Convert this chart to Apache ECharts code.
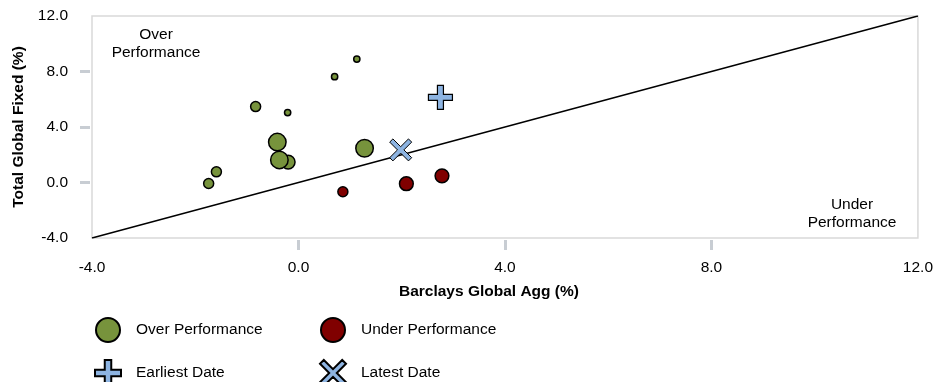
<!DOCTYPE html>
<html>
<head>
<meta charset="utf-8">
<style>
  html, body { margin: 0; padding: 0; background: #fff; }
  #chart { width: 936px; height: 382px; }
</style>
<script src="https://cdn.jsdelivr.net/npm/echarts@6/dist/echarts.min.js"></script>
</head>
<body>
<div id="chart"></div>
<script>
// Fund returns vs. benchmark returns (%), bubble weight = relative size
const overX = [-1.74, -1.59, -0.83, -0.21, 0.70, 1.13, -0.41, -0.20, -0.37, 1.28];
const overY = [-0.07, 0.77, 5.47, 5.04, 7.63, 8.90, 2.91, 1.47, 1.63, 2.47];
const overW = [2, 2, 2, 1, 1, 1, 4, 3, 4, 4];

const underX = [0.86, 2.09, 2.78];
const underY = [-0.67, -0.09, 0.48];
const underW = [2, 3, 3];

const earliestPoint = [2.75, 6.14];
const latestPoint = [1.98, 2.35];

const axisMin = -4;
const axisMax = 12;
const axisStep = 4;
const innerTicks = [0, 4, 8];
const tickLabels = [-4, 0, 4, 8, 12];

const FONT = 'Liberation Sans, Arial, sans-serif';
const FS = 15.5;
const GREEN = '#77933c';
const RED = '#800000';
const BLUE = '#8db4e2';

const PLUS_PATH = 'path://M9,0H15V9H24V15H15V24H9V15H0V9H9Z';
const CROSS_PATH = 'path://M0,3.5L3.5,0L12,8.5L20.5,0L24,3.5L15.5,12L24,20.5L20.5,24L12,15.5L3.5,24L0,20.5L8.5,12Z';

const zip = (xs, ys, ws) => xs.map((x, i) => ws ? [x, ys[i], ws[i]] : [x, ys[i]]);
const bubbleSize = v => 2.5 + 3.75 * v[2];

const chart = echarts.init(document.getElementById('chart'), null, { renderer: 'canvas' });

const legendBase = {
  orient: 'horizontal',
  padding: 0,
  itemWidth: 24,
  itemHeight: 24,
  textStyle: { fontFamily: FONT, fontSize: FS, color: '#000', padding: [0, 0, 0, 11] },
  selectedMode: false
};

// ticks sit a couple of pixels off the plot frame
const tickOffset = 2;

chart.setOption({
  animation: false,
  backgroundColor: '#fff',
  grid: {
    left: 92, right: 14, top: 16, bottom: 144,
    show: true, borderColor: '#d9d9d9', borderWidth: 1.5, backgroundColor: 'transparent'
  },
  xAxis: {
    type: 'value', min: axisMin, max: axisMax, interval: axisStep, offset: tickOffset,
    name: 'Barclays Global Agg (%)', nameLocation: 'middle', nameGap: 46 - tickOffset,
    nameTextStyle: { fontFamily: FONT, fontSize: FS, fontWeight: 'bold', color: '#000', padding: [0, 32, 0, 0] },
    splitLine: { show: false },
    axisLine: { show: false, onZero: false },
    axisTick: { show: true, customValues: innerTicks, length: 10, lineStyle: { color: '#c8cdd3', width: 3 } },
    axisLabel: { customValues: tickLabels, margin: 22 - tickOffset, fontFamily: FONT, fontSize: FS, color: '#000',
      formatter: v => v.toFixed(1) }
  },
  yAxis: {
    type: 'value', min: axisMin, max: axisMax, interval: axisStep, offset: tickOffset,
    name: 'Total Global Fixed (%)', nameLocation: 'middle', nameGap: 64 - tickOffset, nameRotate: 90,
    nameTextStyle: { fontFamily: FONT, fontSize: FS, fontWeight: 'bold', color: '#000' },
    splitLine: { show: false },
    axisLine: { show: false, onZero: false },
    axisTick: { show: true, customValues: innerTicks, length: 10, lineStyle: { color: '#c8cdd3', width: 3 } },
    axisLabel: { customValues: tickLabels, margin: 24 - tickOffset, fontFamily: FONT, fontSize: FS, color: '#000',
      formatter: v => v.toFixed(1) }
  },
  legend: [
    Object.assign({}, legendBase, { left: 95, top: 317, data: [{ name: 'Over Performance', icon: 'circle' }] }),
    Object.assign({}, legendBase, { left: 320, top: 317, data: [{ name: 'Under Performance', icon: 'circle' }] }),
    Object.assign({}, legendBase, { left: 94, top: 359, itemWidth: 26, itemHeight: 26,
      textStyle: Object.assign({}, legendBase.textStyle, { padding: [0, 0, 0, 10] }),
      data: [{ name: 'Earliest Date', icon: PLUS_PATH }] }),
    Object.assign({}, legendBase, { left: 319, top: 359, itemWidth: 26, itemHeight: 26,
      textStyle: Object.assign({}, legendBase.textStyle, { padding: [0, 0, 0, 10] }),
      data: [{ name: 'Latest Date', icon: CROSS_PATH }] })
  ],
  graphic: [
    { type: 'text', x: 156, y: 26, z: 10, style: {
        text: 'Over\nPerformance', align: 'center', lineHeight: 18,
        font: FS + 'px ' + FONT, fill: '#000' } },
    { type: 'text', x: 852, y: 196, z: 10, style: {
        text: 'Under\nPerformance', align: 'center', lineHeight: 18,
        font: FS + 'px ' + FONT, fill: '#000' } }
  ],
  series: [
    {
      name: 'Parity', type: 'line', data: [[axisMin, axisMin], [axisMax, axisMax]],
      showSymbol: false, symbol: 'none', silent: true, z: 1,
      lineStyle: { color: '#000', width: 1.5 }
    },
    {
      name: 'Over Performance', type: 'scatter', z: 3,
      data: zip(overX, overY, overW), symbolSize: bubbleSize,
      itemStyle: { color: GREEN, borderColor: '#000', borderWidth: 1.5, opacity: 1 }
    },
    {
      name: 'Under Performance', type: 'scatter', z: 3,
      data: zip(underX, underY, underW), symbolSize: bubbleSize,
      itemStyle: { color: RED, borderColor: '#000', borderWidth: 1.5, opacity: 1 }
    },
    {
      name: 'Earliest Date', type: 'scatter', z: 4,
      data: [earliestPoint], symbol: PLUS_PATH, symbolSize: 24,
      itemStyle: { color: BLUE, borderColor: '#000', borderWidth: 1.2, opacity: 1 }
    },
    {
      name: 'Latest Date', type: 'scatter', z: 4,
      data: [latestPoint], symbol: CROSS_PATH, symbolSize: 22,
      itemStyle: { color: BLUE, borderColor: '#000', borderWidth: 1, opacity: 1 }
    }
  ]
});
</script>
</body>
</html>
